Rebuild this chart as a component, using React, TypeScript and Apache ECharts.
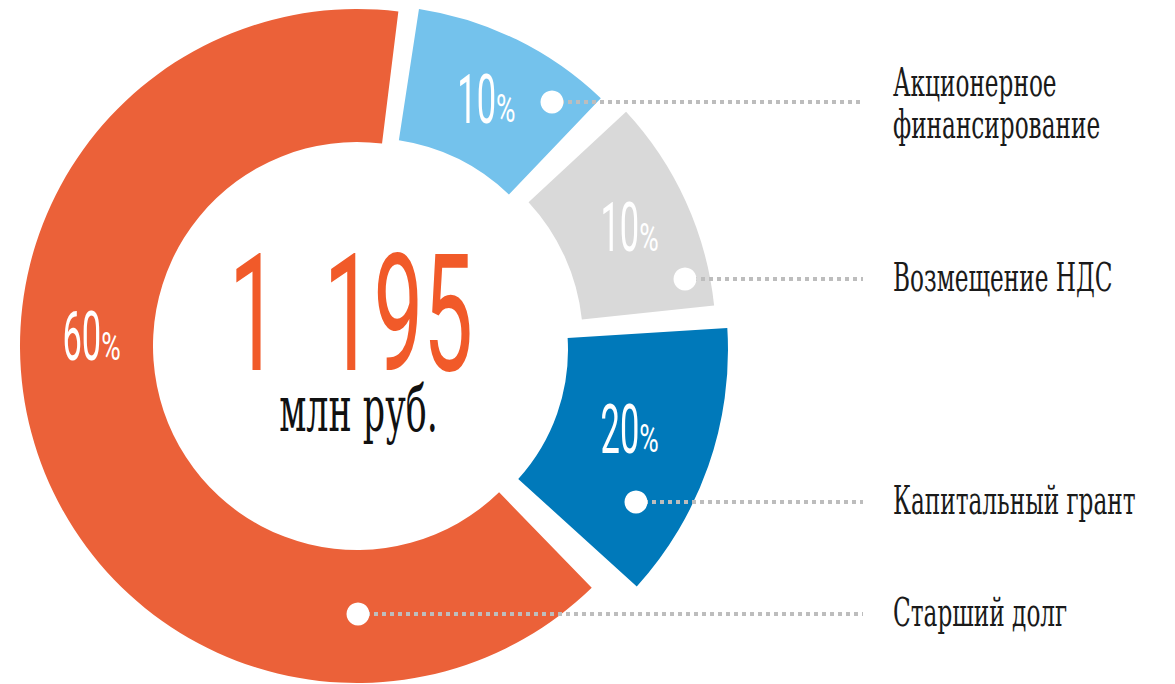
import React, { useEffect, useRef } from 'react';
import * as echarts from 'echarts';

// ---- data ----
const categories = ['Акционерное\nфинансирование', 'Возмещение НДС', 'Капитальный грант', 'Старший долг'];
const pctLabels = ['10', '10', '20', '60'];
// share of the circle each slice occupies as drawn (per cent of 360°)
const arcShare = [10.5, 11, 13.5, 65];
const totalValue = '1 195';
const totalUnit = 'млн руб.';

// ---- styling / layout ----
const COLORS = ['#74C2EC', '#D9D9D9', '#0079BA', '#EB6139'];
const SLICE_GEOM = [
  { cx: 368, cy: 342, r0: 204, r1: 337, rot: -0.3, labelAngle: null as number | null, labelR: 272 },
  { cx: 379, cy: 341, r0: 204, r1: 337, rot: 0.35, labelAngle: null as number | null, labelR: 277 },
  { cx: 376, cy: 350, r0: 192, r1: 352, rot: 0, labelAngle: 107 as number | null, labelR: 267 },
  { cx: 357, cy: 346, r0: 204, r1: 337, rot: 0.85, labelAngle: 272.3 as number | null, labelR: 264 },
];
const START = 7.6; // degrees clockwise from 12 o'clock
const PAD = 2.8;
const ROWS = [
  { y: 102, dotX: 552 },
  { y: 279, dotX: 685 },
  { y: 502, dotX: 636 },
  { y: 614, dotX: 358 },
];
const LEADER_END = 863;
const LABEL_X = 893;
const DIG_FS = 69;
const PCT_FS = 38;

function buildOption() {
  const sum = arcShare.reduce((a, b) => a + b, 0);
  const series = SLICE_GEOM.map((g, i) => ({
    type: 'pie',
    silent: true,
    selectedMode: false,
    center: [g.cx, g.cy],
    radius: [g.r0, g.r1],
    startAngle: 90 - START - g.rot,
    clockwise: true,
    padAngle: PAD,
    avoidLabelOverlap: false,
    label: { show: false },
    labelLine: { show: false },
    emphasis: { disabled: true },
    data: categories.map((name, j) => ({
      name,
      value: arcShare[j],
      itemStyle: { color: j === i ? COLORS[j] : 'rgba(0,0,0,0)' },
    })),
  }));

  const els: any[] = [];
  let cum = 0;
  arcShare.forEach((v, i) => {
    const g = SLICE_GEOM[i];
    const mid = START + g.rot + ((cum + v / 2) / sum) * 360;
    cum += v;
    const ang = ((g.labelAngle ?? mid) * Math.PI) / 180;
    const lx = g.cx + g.labelR * Math.sin(ang);
    const ly = g.cy - g.labelR * Math.cos(ang);
    const baseline = ly + 24.5;
    els.push({
      type: 'text', z: 100, x: lx + 8, y: baseline - 0.342 * DIG_FS, scaleX: 0.5,
      style: { text: pctLabels[i], fill: '#ffffff', fontSize: DIG_FS, fontFamily: 'Roboto', fontWeight: 400, align: 'right', verticalAlign: 'middle' },
    });
    els.push({
      type: 'text', z: 100, x: lx + 8, y: baseline - 0.342 * PCT_FS, scaleX: 0.7,
      style: { text: '%', fill: '#ffffff', fontSize: PCT_FS, fontFamily: 'Roboto', fontWeight: 400, align: 'left', verticalAlign: 'middle' },
    });
  });

  ROWS.forEach((r, i) => {
    els.push({
      type: 'line', z: 100,
      shape: { x1: r.dotX, y1: r.y, x2: LEADER_END, y2: r.y },
      style: { stroke: '#BDBDBD', lineWidth: 4, lineDash: [4, 4] },
    });
    els.push({
      type: 'circle', z: 101,
      shape: { cx: r.dotX, cy: r.y, r: 11.5 },
      style: { fill: '#ffffff' },
    });
    const multi = categories[i].includes('\n');
    els.push({
      type: 'text', z: 100, x: LABEL_X, y: r.y + (multi ? 1.5 : -1), scaleX: 0.58,
      style: { text: categories[i], fill: '#1a1a1a', fontSize: 40, lineHeight: 42, fontFamily: 'DejaVu Serif', align: 'left', verticalAlign: 'middle' },
    });
  });

  els.push({
    type: 'text', z: 100, x: 351, y: 370 - 0.342 * 164, scaleX: 0.54,
    style: { text: totalValue.replace(' ', '\u2002'), fill: '#F15A29', fontSize: 164, fontFamily: 'Roboto', fontWeight: 400, align: 'center', verticalAlign: 'middle' },
  });
  els.push({
    type: 'text', z: 100, x: 358.5, y: 431 - 0.346 * 64, scaleX: 0.545,
    style: { text: totalUnit, fill: '#111111', fontSize: 64, fontFamily: 'DejaVu Serif', align: 'center', verticalAlign: 'middle' },
  });

  return {
    animation: false,
    backgroundColor: '#ffffff',
    series,
    graphic: { elements: els },
  };
}

export default function App() {
  const ref = useRef<HTMLDivElement>(null);
  useEffect(() => {
    document.body.style.margin = '0';
    const chart = echarts.init(ref.current!, undefined, { renderer: 'svg' });
    chart.setOption(buildOption() as any);
    return () => chart.dispose();
  }, []);
  return <div ref={ref} style={{ width: 1175, height: 684 }} />;
}
